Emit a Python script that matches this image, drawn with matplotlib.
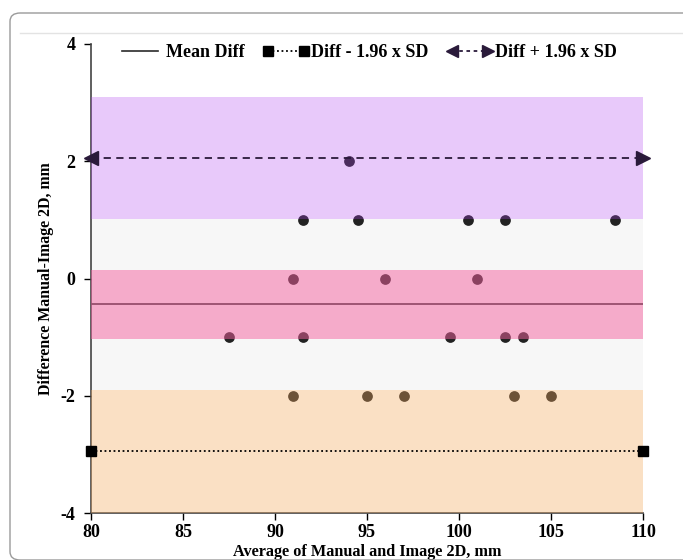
import numpy as np
import matplotlib.pyplot as plt
from matplotlib.lines import Line2D
from matplotlib.patches import FancyBboxPatch
from matplotlib.legend_handler import HandlerBase

plt.rcParams['font.family'] = ['Liberation Serif', 'DejaVu Serif']
plt.rcParams['font.weight'] = 'bold'
plt.rcParams['axes.unicode_minus'] = False

# Datos (promedio, diferencia)
avg = [94, 91.5, 94.5, 100.5, 102.5, 108.5,
       91, 96, 101,
       87.5, 91.5, 99.5, 102.5, 103.5,
       91, 95, 97, 103, 105]
diff = [2, 1, 1, 1, 1, 1,
        0, 0, 0,
        -1, -1, -1, -1, -1,
        -2, -2, -2, -2, -2]

mean_diff = -0.44
lower_loa = -2.94
upper_loa = 2.06

# Bandas de confianza (ymin, ymax)
band_upper = (1.02, 3.10)
band_mean = (-1.03, 0.15)
band_lower = (-4.0, -1.90)
band_gray = (-1.90, 1.02)

x_range = [80, 110]

up_color = '#2a1a3a'


class ArrowHandler(HandlerBase):
    # linea discontinua con flechas en los extremos
    def create_artists(self, legend, orig_handle, xdescent, ydescent,
                       width, height, fontsize, trans):
        y = height / 2 - ydescent
        x0, x1 = -xdescent + 4, -xdescent + width - 4
        line = Line2D([x0, x1], [y, y], color=up_color, ls=(0, (2, 2)), lw=1.3)
        left = Line2D([x0], [y], color=up_color, marker='<', markersize=9, ls='none')
        right = Line2D([x1], [y], color=up_color, marker='>', markersize=9, ls='none')
        for a in (line, left, right):
            a.set_transform(trans)
        return [line, left, right]


fig = plt.figure(figsize=(6.83, 5.6), dpi=100)

# marco
frame = FancyBboxPatch((10 / 683, 0 / 560), 700 / 683, 547 / 560,
                       boxstyle='round,pad=0,rounding_size=0.015',
                       transform=fig.transFigure, fill=False,
                       edgecolor='#9a9a9a', linewidth=1.0)
fig.patches.append(frame)
fig.add_artist(Line2D([20 / 683, 1], [1 - 33 / 560, 1 - 33 / 560],
                      transform=fig.transFigure, color='#e3e3e3', lw=1))

ax = fig.add_axes([91 / 683, 1 - 513 / 560, 552 / 683, 469 / 560])

# fondo gris
ax.fill_between(x_range, band_gray[0], band_gray[1], color='#f7f7f7', lw=0, zorder=1)

# media (debajo de la banda rosa)
ax.plot(x_range, [mean_diff, mean_diff], color='#2a2a2a', lw=1.2, zorder=2)

# puntos
ax.scatter(avg, diff, s=60, color='#222222', zorder=3, linewidths=0)

# bandas semitransparentes encima
ax.fill_between(x_range, band_upper[0], band_upper[1], color='#b045ee', alpha=0.29, lw=0, zorder=4)
ax.fill_between(x_range, band_mean[0], band_mean[1], color='#f5609f', alpha=0.5, lw=0, zorder=4)
ax.fill_between(x_range, band_lower[0], band_lower[1], color='#f2a95e', alpha=0.36, lw=0, zorder=4)

# limites
ax.plot(x_range, [lower_loa, lower_loa], color='black', ls=(0, (1, 1.5)), lw=1.3,
        marker='s', markersize=7, zorder=5, clip_on=False)
ax.plot(x_range, [upper_loa, upper_loa], color=up_color, ls=(0, (4, 3)), lw=1.3, zorder=5)
ax.plot([x_range[0]], [upper_loa], color=up_color, marker='<', markersize=10, ls='none', zorder=6, clip_on=False)
ax.plot([x_range[1]], [upper_loa], color=up_color, marker='>', markersize=10, ls='none', zorder=6, clip_on=False)

ax.set_xlim(80, 110)
ax.set_ylim(-4, 4)
ax.set_xticks(np.arange(80, 111, 5))
ax.set_yticks([-4, -2, 0, 2, 4])
ax.tick_params(direction='out', length=5, width=1, labelsize=13, colors='black')
ax.tick_params(axis='x', pad=3)
ax.tick_params(axis='y', pad=6)
for s in ['top', 'right']:
    ax.spines[s].set_visible(False)
for s in ['left', 'bottom']:
    ax.spines[s].set_color('#444444')
    ax.spines[s].set_linewidth(1.2)

ax.set_xlabel('Average of Manual and Image 2D, mm', fontsize=11.7, fontweight='bold', labelpad=2)
ax.set_ylabel('Difference Manual-Image 2D, mm', fontsize=11.4, fontweight='bold', labelpad=5)

# leyenda
h_mean = Line2D([], [], color='#2a2a2a', lw=1.2)
h_low = Line2D([], [], color='black', ls=(0, (1, 1.5)), lw=1.3, marker='s', markersize=7)
h_up = Line2D([], [], color=up_color)
ax.legend([h_mean, h_low, h_up],
          ['Mean Diff', 'Diff - 1.96 x SD', 'Diff + 1.96 x SD'],
          handler_map={h_up: ArrowHandler()},
          loc='upper center', bbox_to_anchor=(0.5, 1.035), ncol=3, frameon=False,
          fontsize=13, handlelength=2.6, handletextpad=0.1, columnspacing=1.0,
          numpoints=2)

fig.savefig('out.png', dpi=100)
